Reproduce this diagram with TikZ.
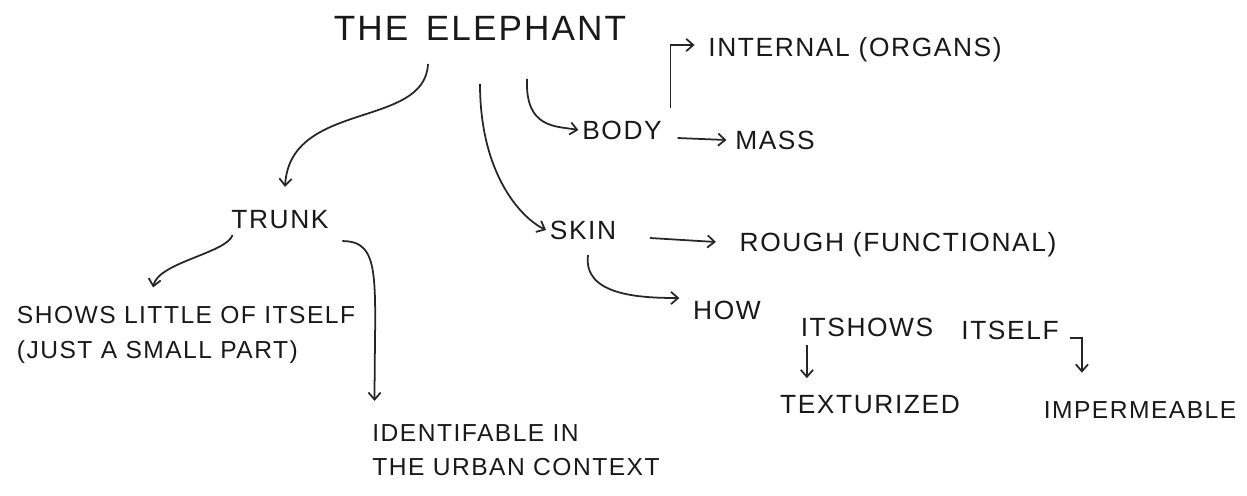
\documentclass[tikz,border=0pt]{standalone}
\usepackage{fontspec}
\setmainfont{Liberation Sans}[LetterSpace=6]
\usepackage{tikz}
\usetikzlibrary{arrows, arrows.meta, positioning, calc}

\begin{document}
\begin{tikzpicture}[x=0.02cm, y=-0.02cm,
		every node/.style={font=\fontsize{15}{21}\selectfont, inner sep=2pt, text=black!90},
		link/.style={-{Straight Barb[length=4pt,width=7pt]}, line width=1pt, black!85}]
			\useasboundingbox (0,0) rectangle (1247,495);
			% Primo livello
			\node (elephant) at (480,28) {\fontsize{20}{24}\selectfont THE\enspace ELEPHANT};
			\node (trunk) at (280,220) {TRUNK};
			\node (body) at (622,130) {BODY};
			\node (skin) at (583,230) {SKIN};
			% Secondo livello
			\node (internal) at (855,50) {INTERNAL (ORGANS)};
			\node (mass) at (775,140) {MASS};
			\node (rough) at (898,245) {ROUGH (FUNCTIONAL)};
			\node[align=left, font=\fontsize{14}{20}\selectfont] (shows) at (186,335) {SHOWS LITTLE OF ITSELF\\(JUST A SMALL PART)};
			\node[align=left, font=\fontsize{14}{19}\selectfont] (urban) at (516,450) {IDENTIFABLE IN\\THE URBAN CONTEXT};
			\node (how) at (727,310) {HOW};
			\node (itshows) at (867,327) {ITSHOWS};
			\node (itself) at (1010,330) {ITSELF};
			% Terzo livello
			\node (textur) at (870,405) {TEXTURIZED};
			\node[font=\fontsize{14}{18}\selectfont] (imperm) at (1140,410) {IMPERMEABLE};
			% Frecce
			\draw[link] ($(elephant.south)+(-52,20)$) .. controls +(-3,65) and (290,100) .. ($(trunk.north)+(5,-20)$);
			\draw[link] ($(elephant.south)+(0,40)$) .. controls +(0,90) and +(-25,-12) .. (skin.west);
			\draw[link] ($(elephant.south)+(47,35)$) .. controls +(-2,50) and +(-22,-4) .. (body.west);
			\draw[link] ($(body.east)+(5,-22)$) |- ($(internal.west)+(-10,-5)$);
			\draw[link] ($(body.east)+(12,8)$) -- ($(mass.west)+(-5,0)$);
			\draw[link] ($(trunk.south west)+(5,2)$) .. controls +(-6,18) and +(5,-25) .. ($(shows.north west)+(140,-15)$);
			\draw[link] ($(trunk.south east)+(10,8)$) .. controls +(40,0) and +(0,-120) .. ($(urban.north west)+(6,-20)$);
			\draw[link] ($(skin.east)+(30,8)$) -- ($(rough.west)+(-20,-3)$);
			\draw[link] ($(skin.south)+(5,12)$) .. controls +(-5,40) and +(-40,0) .. ($(how.west)+(-10,-12)$);
			\draw[link] ($(itshows.south west)+(10,5)$) -- ($(itshows.south west)+(10,38)$);
			\draw[link] ($(itself.east)+(8,8)$) -| ($(imperm.north west)+(42,-25)$);
		\end{tikzpicture}
\end{document}
